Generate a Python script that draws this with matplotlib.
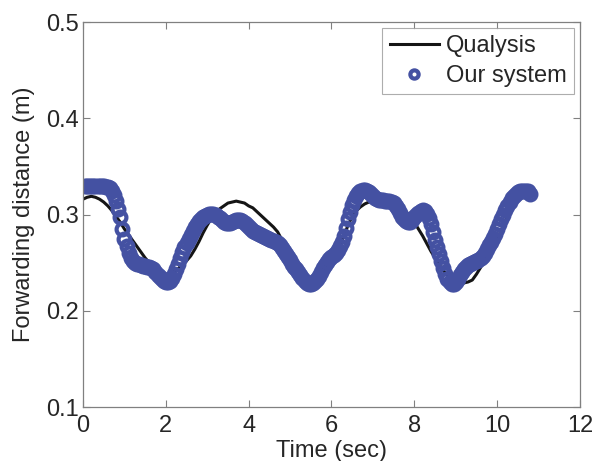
import numpy as np
import matplotlib
matplotlib.use('Agg')
import matplotlib.pyplot as plt

plt.rcParams['font.family'] = ['Liberation Sans', 'DejaVu Sans']

# Qualysis reference, sampled every 0.1 s
qualysis_t = np.round(np.arange(0, 109) * 0.1, 2)
qualysis_d = [
    0.316, 0.318, 0.319, 0.318, 0.316, 0.313, 0.309, 0.304, 0.298, 0.292,
    0.285, 0.279, 0.273, 0.267, 0.261, 0.255, 0.250, 0.246, 0.242, 0.240,
    0.238, 0.239, 0.241, 0.244, 0.248, 0.252, 0.257, 0.264, 0.272, 0.281,
    0.289, 0.296, 0.302, 0.306, 0.309, 0.312, 0.313, 0.314, 0.313, 0.312,
    0.309, 0.307, 0.303, 0.299, 0.295, 0.291, 0.287, 0.282, 0.274, 0.267,
    0.260, 0.251, 0.243, 0.236, 0.230, 0.229, 0.232, 0.237, 0.243, 0.249,
    0.255, 0.261, 0.268, 0.278, 0.289, 0.298, 0.304, 0.308, 0.311, 0.313,
    0.313, 0.313, 0.312, 0.312, 0.311, 0.310, 0.309, 0.307, 0.303, 0.298,
    0.292, 0.285, 0.278, 0.270, 0.262, 0.255, 0.248, 0.242, 0.237, 0.234,
    0.231, 0.229, 0.229, 0.230, 0.232, 0.238, 0.245, 0.252, 0.259, 0.266,
    0.274, 0.284, 0.294, 0.303, 0.311, 0.317, 0.321, 0.323, 0.322,
]

# our system, sampled every 0.05 s
ours_t = np.round(np.arange(1, 217) * 0.05, 2)
ours_d = [
    0.330, 0.330, 0.330, 0.330, 0.330, 0.330, 0.330, 0.330, 0.330, 0.330,
    0.329, 0.329, 0.328, 0.325, 0.320, 0.314, 0.306, 0.297, 0.285, 0.275,
    0.267, 0.260, 0.255, 0.252, 0.250, 0.249, 0.249, 0.248, 0.247, 0.247,
    0.246, 0.246, 0.245, 0.243, 0.240, 0.237, 0.235, 0.233, 0.231, 0.230,
    0.230, 0.231, 0.234, 0.238, 0.243, 0.249, 0.255, 0.261, 0.266, 0.271,
    0.275, 0.279, 0.283, 0.287, 0.290, 0.293, 0.295, 0.297, 0.299, 0.300,
    0.301, 0.301, 0.301, 0.300, 0.298, 0.296, 0.294, 0.292, 0.291, 0.291,
    0.291, 0.292, 0.293, 0.294, 0.294, 0.294, 0.293, 0.291, 0.289, 0.287,
    0.285, 0.283, 0.282, 0.281, 0.280, 0.279, 0.278, 0.277, 0.276, 0.275,
    0.274, 0.273, 0.272, 0.270, 0.268, 0.265, 0.262, 0.259, 0.256, 0.253,
    0.249, 0.246, 0.243, 0.240, 0.237, 0.234, 0.231, 0.229, 0.228, 0.228,
    0.229, 0.231, 0.233, 0.236, 0.240, 0.244, 0.248, 0.251, 0.254, 0.256,
    0.258, 0.260, 0.263, 0.267, 0.272, 0.278, 0.286, 0.295, 0.303, 0.310,
    0.315, 0.319, 0.322, 0.325, 0.326, 0.326, 0.325, 0.323, 0.321, 0.319,
    0.317, 0.316, 0.315, 0.315, 0.315, 0.314, 0.314, 0.314, 0.313, 0.312,
    0.309, 0.306, 0.302, 0.298, 0.295, 0.293, 0.292, 0.292, 0.294, 0.297,
    0.300, 0.302, 0.304, 0.305, 0.304, 0.301, 0.296, 0.290, 0.282, 0.274,
    0.266, 0.259, 0.252, 0.245, 0.238, 0.233, 0.230, 0.228, 0.228, 0.230,
    0.233, 0.237, 0.240, 0.243, 0.246, 0.248, 0.249, 0.250, 0.251, 0.252,
    0.253, 0.255, 0.257, 0.260, 0.264, 0.268, 0.272, 0.276, 0.280, 0.285,
    0.290, 0.295, 0.300, 0.305, 0.309, 0.313, 0.317, 0.319, 0.321, 0.323,
    0.324, 0.325, 0.325, 0.325, 0.324, 0.321,
]

x_ticks = [0, 2, 4, 6, 8, 10, 12]
y_ticks = [0.1, 0.2, 0.3, 0.4, 0.5]

text_color = '#262626'
axis_color = '#808080'
blue = '#4451a2'

fig = plt.figure(figsize=(5.93, 4.61), dpi=100)
ax = fig.add_axes([0.140, 0.117, 0.838, 0.835])

ax.plot(qualysis_t, qualysis_d, color='#151515', lw=2.2, label='Qualysis')
ax.plot(ours_t, ours_d, 'o', color=blue, mfc='none', mec=blue, ms=8.5, mew=3.0,
        label='Our system')

ax.set_xlim(0, 12)
ax.set_ylim(0.1, 0.5)
ax.set_xticks(x_ticks)
ax.set_yticks(y_ticks)
ax.set_xticklabels([str(v) for v in x_ticks])
ax.set_yticklabels(['{:.1f}'.format(v) for v in y_ticks])

ax.tick_params(direction='in', length=5, width=0.8, color=axis_color,
               top=True, right=True, labelsize=17, labelcolor=text_color)
ax.tick_params(axis='x', pad=6)
ax.tick_params(axis='y', pad=3)
for s in ax.spines.values():
    s.set_color(axis_color)
    s.set_linewidth(0.9)

ax.set_xlabel('Time (sec)', fontsize=17, color=text_color, labelpad=2)
ax.set_ylabel('Forwarding distance (m)', fontsize=17, color=text_color, labelpad=8)

leg = ax.legend(loc='upper right', fontsize=17, frameon=True, fancybox=False,
                borderaxespad=0.25, handlelength=2.1, handletextpad=0.3,
                borderpad=0.3, labelspacing=0.35, markerscale=0.7)
leg.get_frame().set_edgecolor('#999999')
leg.get_frame().set_linewidth(0.8)
for t in leg.get_texts():
    t.set_color(text_color)

fig.savefig('out.png', dpi=100)
